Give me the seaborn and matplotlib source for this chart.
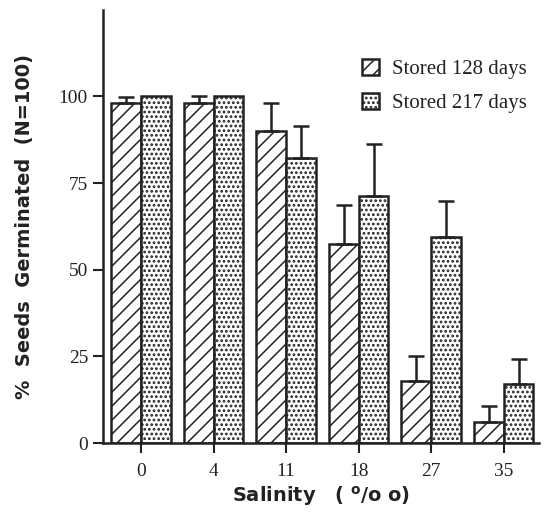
import seaborn as sns
import matplotlib.pyplot as plt
import pandas as pd
import numpy as np

salinity = ['0', '4', '11', '18', '27', '35']
stored_128 = [98, 98, 90, 57.5, 18, 6]
err_128 = [1.8, 2, 8.2, 11.3, 7.2, 4.6]
stored_217 = [100, 100, 82.3, 71.4, 59.5, 17]
err_217 = [0, 0, 9.2, 14.8, 10.4, 7.2]
groups = ['Stored 128 days', 'Stored 217 days']

df = pd.DataFrame({
    'Salinity': salinity * 2,
    'Pct': stored_128 + stored_217,
    'Group': [groups[0]] * 6 + [groups[1]] * 6,
})

# dpi picked so the hatch spacing comes out like the scan; sizes are scaled back
DPI = 84
S = 100 / DPI
INK = '#222222'

sns.set_style('ticks')
plt.rcParams['hatch.linewidth'] = 1.0 * S
plt.rcParams['hatch.color'] = INK

fig = plt.figure(figsize=[544 / DPI, 514 / DPI], dpi=DPI)
ax = fig.add_axes([0.19, 0.138, 0.80, 0.843])

sns.barplot(data=df, x='Salinity', y='Pct', hue='Group', order=salinity,
            hue_order=groups, palette=['white', 'white'], width=0.82,
            edgecolor=INK, linewidth=1.8 * S, errorbar=None, ax=ax)

hatches = ['//', '...']
hatch_lw = [1.1 * S, 1.3 * S]
for cont, h, hl, vals, errs in zip(ax.containers, hatches, hatch_lw,
                                   [stored_128, stored_217], [err_128, err_217]):
    xs = []
    for p in cont:
        p.set_hatch(h)
        if hasattr(p, 'set_hatch_linewidth'):
            p.set_hatch_linewidth(hl)
        xs.append(p.get_x() + p.get_width() / 2)
    e = np.array(errs)
    mask = e > 0
    ax.errorbar(np.array(xs)[mask], np.array(vals)[mask],
                yerr=[np.zeros(mask.sum()), e[mask]], fmt='none',
                ecolor=INK, elinewidth=1.8 * S, capsize=6 * S, capthick=1.8 * S, zorder=1)

ax.set_ylim(0, 125)
ax.set_xlim(-0.52, 5.48)
ax.set_yticks([0, 25, 50, 75, 100])
sns.despine(ax=ax)
for s in ['left', 'bottom']:
    ax.spines[s].set_linewidth(1.8 * S)
    ax.spines[s].set_color(INK)
ax.tick_params(direction='out', length=7 * S, width=1.5 * S, color=INK, labelcolor=INK, pad=4 * S)
ax.tick_params(axis='x', pad=7 * S)
for lab in ax.get_xticklabels() + ax.get_yticklabels():
    lab.set_family('Liberation Serif')
    lab.set_fontsize(14 * S)

ax.set_xlabel(r'Salinity   ( $^{\mathbf{o}}$/o o)', fontsize=14 * S, fontweight='bold',
              family='DejaVu Sans', color=INK, labelpad=3 * S)
ax.set_ylabel('%  Seeds  Germinated  (N=100)', fontsize=14 * S, fontweight='bold',
              family='DejaVu Sans', color=INK, labelpad=18 * S)

leg = ax.legend(loc='upper left', bbox_to_anchor=((362 - 103) / 435, (443 - 59) / 433.3),
                frameon=False, borderpad=0, borderaxespad=0,
                prop={'family': 'Liberation Serif', 'size': 15 * S},
                handlelength=0.8, handleheight=0.8, handletextpad=0.6, labelspacing=0.65)
for hnd, h, hl in zip(leg.legend_handles, hatches, hatch_lw):
    hnd.set_hatch(h)
    if hasattr(hnd, 'set_hatch_linewidth'):
        hnd.set_hatch_linewidth(hl)
    hnd.set_edgecolor(INK)
    hnd.set_facecolor('white')
    hnd.set_linewidth(1.8 * S)
for t in leg.get_texts():
    t.set_color(INK)

fig.savefig('out.png', dpi=DPI)
